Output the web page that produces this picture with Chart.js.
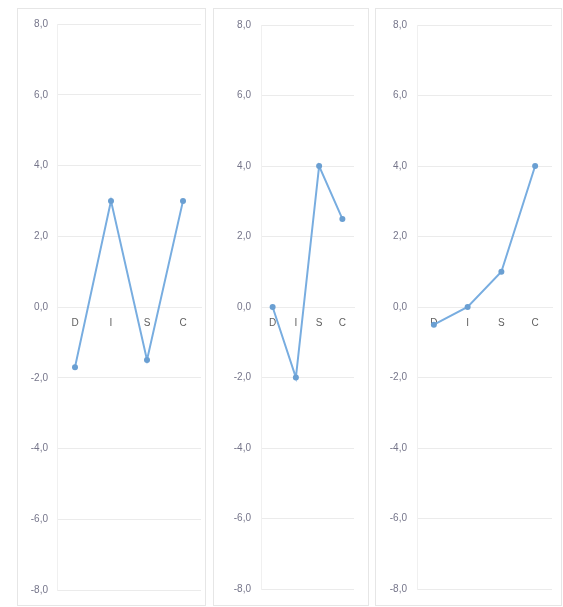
<!DOCTYPE html>
<html>
<head>
<meta charset="utf-8">
<script src="https://cdn.jsdelivr.net/npm/chart.js@4/dist/chart.umd.min.js"></script>
<style>
  html, body { margin: 0; padding: 0; background: #ffffff; }
  body { width: 563px; height: 607px; position: relative; overflow: hidden; font-family: "Liberation Sans", Arial, sans-serif; }
  .panel { position: absolute; top: 8px; height: 598px; border: 1px solid #e6e6e6; box-sizing: border-box; }
  .panel canvas { position: absolute; left: 0; top: 0; }
</style>
</head>
<body>
<div class="panel" id="p1" style="left:17px;width:189px;"><canvas id="c1"></canvas></div>
<div class="panel" id="p2" style="left:213px;width:156px;"><canvas id="c2"></canvas></div>
<div class="panel" id="p3" style="left:375px;width:187px;"><canvas id="c3"></canvas></div>
<script>
const categories = ['D', 'I', 'S', 'C'];
const graph1 = [-1.7, 3.0, -1.5, 3.0];
const graph2 = [0.0, -2.0, 4.0, 2.5];
const graph3 = [-0.5, 0.0, 1.0, 4.0];
const yMin = -8;
const yMax = 8;
const yStep = 2;

function makeChart(id, values, axisWidth, padRight, labelPad) {
  const ctx = document.getElementById(id);
  const parent = ctx.parentElement;
  ctx.width = parent.clientWidth;
  ctx.height = parent.clientHeight;
  return new Chart(ctx, {
    type: 'line',
    data: {
      labels: categories,
      datasets: [{
        data: values,
        borderColor: '#78ade0',
        backgroundColor: '#6a9fd2',
        borderWidth: 2,
        pointRadius: 3,
        pointHoverRadius: 3,
        pointBorderWidth: 0,
        tension: 0,
        fill: false
      }]
    },
    options: {
      responsive: false,
      animation: false,
      events: [],
      layout: { padding: { top: 13, bottom: 13, left: 0, right: padRight } },
      plugins: { legend: { display: false }, tooltip: { enabled: false } },
      scales: {
        x: {
          type: 'category',
          position: { y: 0 },
          offset: true,
          grid: { display: false, drawTicks: false },
          border: { display: true, color: '#ececec' },
          ticks: { color: '#5f5f5f', padding: 10, font: { size: 10, family: 'Liberation Sans' }, maxRotation: 0, autoSkip: false },
          afterFit: (s) => { s.height = 0; }
        },
        y: {
          min: yMin,
          max: yMax,
          grid: { color: '#ebebeb', drawTicks: false },
          border: { display: true, color: '#f0f0f0' },
          ticks: {
            stepSize: yStep,
            color: '#75758a',
            padding: labelPad,
            font: { size: 10, family: 'Liberation Sans' },
            callback: (v) => v.toFixed(1).replace('.', ',')
          },
          afterFit: (s) => { s.width = axisWidth; }
        }
      }
    }
  });
}

makeChart('c1', graph1, 39, 4, 9);
makeChart('c2', graph2, 47, 14, 10);
makeChart('c3', graph3, 41, 9, 10);
</script>
</body>
</html>
